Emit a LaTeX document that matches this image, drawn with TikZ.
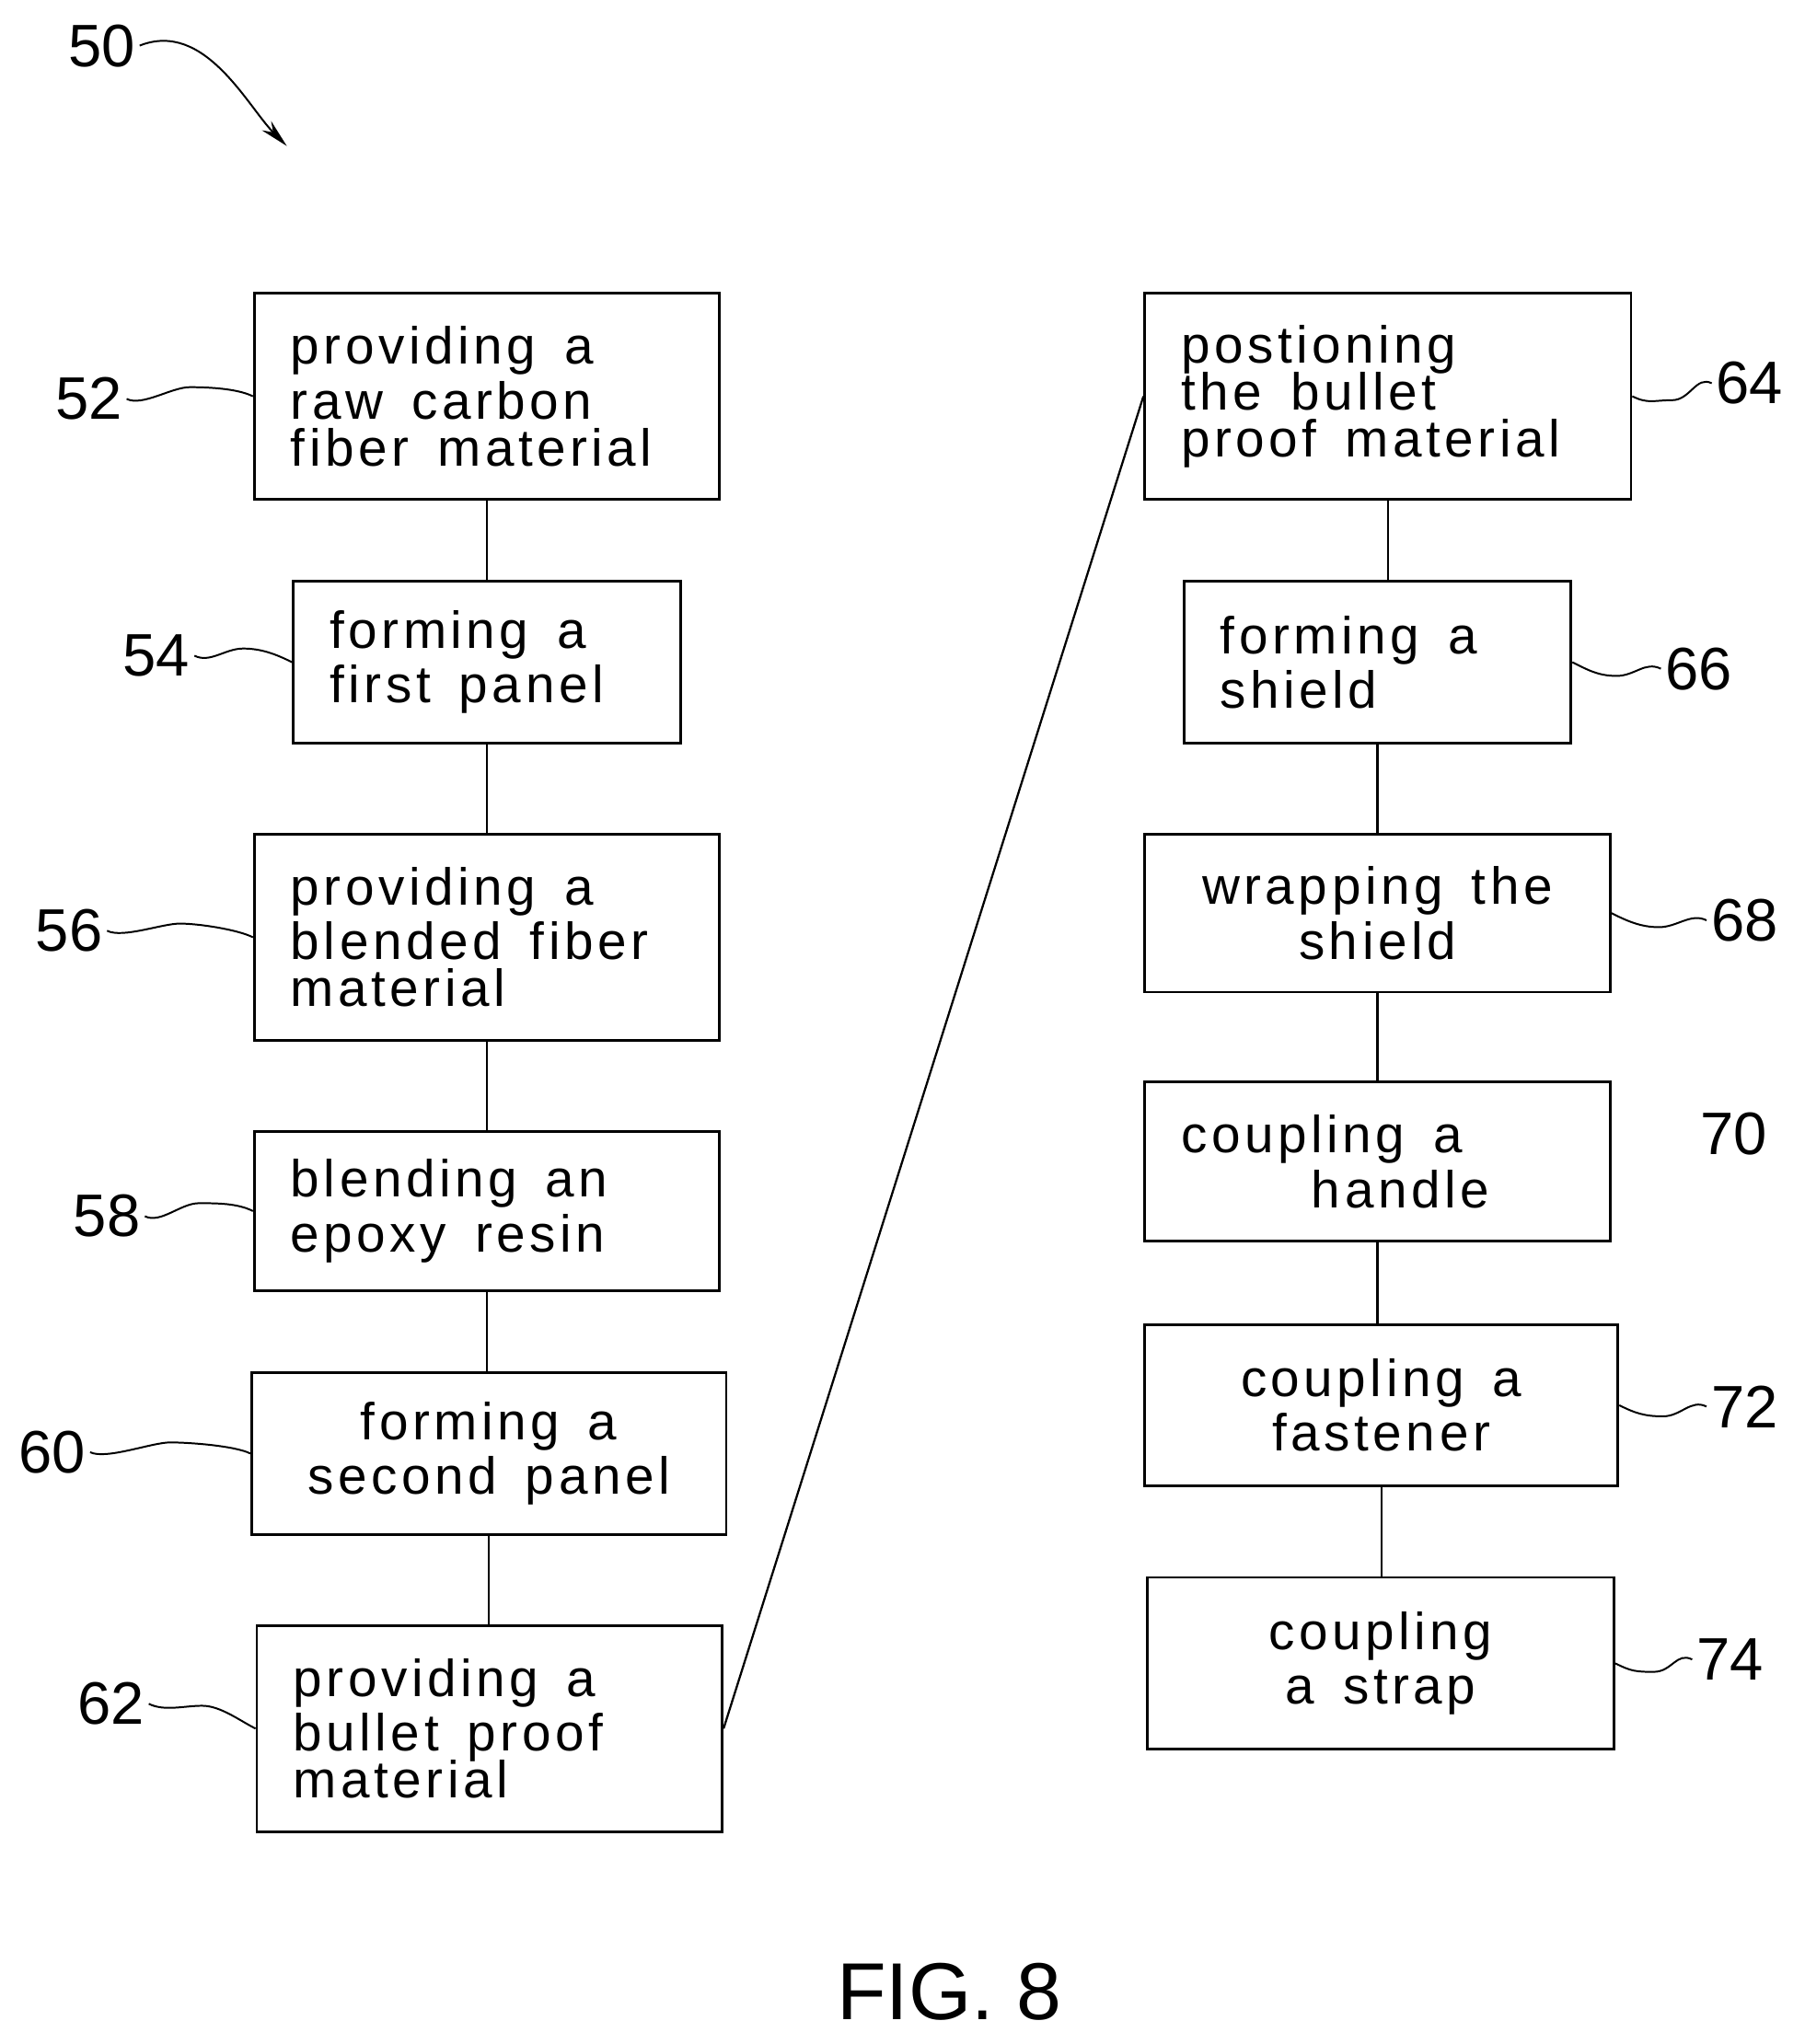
\documentclass[tikz,border=0pt]{standalone}
\usepackage{fontspec}
\setmainfont{Liberation Sans}
\newfontfamily\boxfont[LetterSpace=8]{Liberation Sans}
\usetikzlibrary{arrows.meta,calc}
\newcommand\ws{\hspace{22pt}}
\begin{document}
\begin{tikzpicture}[x=1pt,y=-1pt,
  box/.style={draw,line width=2pt,rectangle,inner sep=0pt,font=\boxfont\fontsize{40}{40}\selectfont,align=left},
  lab/.style={font=\fontsize{46}{46}\selectfont},
  lead/.style={line width=1.4pt},
  con/.style={line width=1.6pt}]
\useasboundingbox (0,0) rectangle (1384,1568);
\newcommand\bx[7]{%
\pgfmathsetmacro\bw{#3-#2}\pgfmathsetmacro\bh{#5-#4}\pgfmathsetmacro\tw{#3-#2-56}%
\pgfmathsetmacro\cx{(#2+#3)/2}\pgfmathsetmacro\cy{(#4+#5)/2}%
\node[box,minimum width=\bw pt,minimum height=\bh pt,text width=\tw pt,#6] (#1) at (\cx,\cy) {#7};}
\bx{b52}{195}{552}{225}{383}{}{providing\ws a\\[2pt]raw\ws carbon\\[-4pt]fiber\ws material}
\bx{b54}{225}{522}{446}{570}{}{forming\ws a\\[2pt]first\ws panel}
\bx{b56}{195}{552}{640}{798}{}{providing\ws a\\[2pt]blended\ws fiber\\[-4pt]material}
\bx{b58}{195}{552}{868}{990}{}{blending\ws an\\[2pt]epoxy\ws resin}
\bx{b60}{193}{557}{1053}{1177}{align=center}{forming\ws a\\[2pt]second\ws panel}
\bx{b62}{197}{554}{1247}{1405}{}{providing\ws a\\[2pt]bullet\ws proof\\[-4pt]material}
\bx{b64}{878}{1251}{225}{383}{text width=317pt}{postioning\\[-4pt]the\ws bullet\\[-4pt]proof\ws material}
\bx{b66}{908}{1205}{446}{570}{}{forming\ws a\\[2pt]shield}
\bx{b68}{878}{1235}{640}{761}{align=center}{wrapping\ws the\\[2pt]shield}
\bx{b70}{878}{1235}{830}{952}{}{coupling\ws a\\[2pt]\hspace*{100pt}handle}
\bx{b72}{878}{1241}{1016}{1140}{align=center}{coupling\ws a\\[2pt]fastener}
\bx{b74}{880}{1238}{1210}{1342}{align=center}{coupling\\[2pt]a\ws strap}
\foreach \a/\b in {b52/b54,b54/b56,b56/b58,b58/b60,b60/b62,b64/b66,b66/b68,b68/b70,b70/b72,b72/b74}
  \draw[con] (\a.south) -- (\a.south |- \b.north);
\draw[con] (b62.east) -- (b64.west);
\node[lab] (l52) at (68,306) {52};
\node[lab] (l54) at (120,503) {54};
\node[lab] (l56) at (53,714) {56};
\node[lab] (l58) at (82,933) {58};
\node[lab] (l60) at (40,1114) {60};
\node[lab] (l62) at (85,1307) {62};
\node[lab] (l64) at (1342,294) {64};
\node[lab] (l66) at (1303,513) {66};
\node[lab] (l68) at (1338,706) {68};
\node[lab] (l70) at (1330,870) {70};
\node[lab] (l72) at (1338,1079) {72};
\node[lab] (l74) at (1327,1273) {74};
\node[lab] (l50) at (78,35) {50};
\node[font=\fontsize{62}{62}\selectfont] (fig) at (728,1528) {FIG. 8};
\foreach \l/\b in {l52/b52,l54/b54,l56/b56,l58/b58,l60/b60,l62/b62}
  \draw[lead] (\l.east) .. controls +(12,6) and +(-14,0) .. ($(\l.east)!0.5!(\b.west)+(0,-8)$) .. controls +(14,0) and +(-12,-6) .. (\b.west);
\foreach \l/\b in {l64/b64,l66/b66,l68/b68,l72/b72,l74/b74}
  \draw[lead] (\l.west) .. controls +(-12,-6) and +(14,0) .. ($(\l.west)!0.5!(\b.east)+(0,8)$) .. controls +(-14,0) and +(12,6) .. (\b.east);
\coordinate (a50) at (220,112);
\draw[lead,-{Stealth[length=22pt,width=10pt]}] (l50.east) .. controls +(50,-20) and +(-30,-30) .. (a50);
\end{tikzpicture}
\end{document}
